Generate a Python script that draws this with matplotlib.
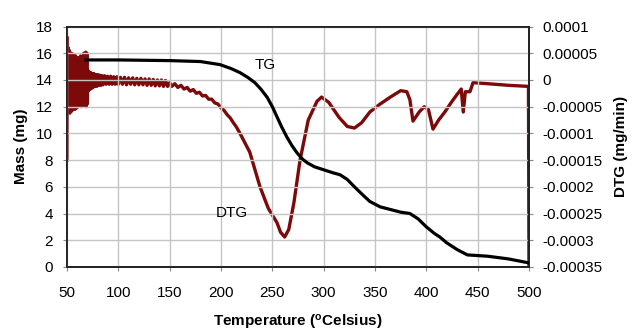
import matplotlib
matplotlib.use("Agg")
import matplotlib.pyplot as plt

plt.rcParams["font.family"] = ["Liberation Sans", "DejaVu Sans"]

# TG curve: temperature (C) and sample mass (mg)
tg_temp = [68.5, 100, 150, 180, 199, 210, 218.5, 226, 233, 239, 245, 250,
           254.5, 259, 264, 269, 274, 279, 284, 291, 299, 309, 316, 323, 330,
           338, 345, 355, 365, 375, 384, 392, 400, 408, 413, 420, 430, 440,
           460, 480, 500]
tg_mass = [15.5, 15.5, 15.45, 15.38, 15.15, 14.85, 14.55, 14.2, 13.8, 13.3,
           12.7, 12.0, 11.25, 10.5, 9.75, 9.1, 8.55, 8.1, 7.8, 7.5, 7.3, 7.05,
           6.9, 6.55, 6.0, 5.4, 4.9, 4.5, 4.3, 4.1, 4.0, 3.6, 3.0, 2.5, 2.25,
           1.8, 1.3, 0.9, 0.8, 0.6, 0.3]

# DTG curve: temperature (C) and mass rate (1e-6 mg/min)
dtg_temp = [50.0, 50.3, 50.8, 51.3, 51.8, 52.3, 52.8, 53.3, 53.8, 54.3, 54.8,
            55.3, 55.8, 56.3, 56.8, 57.3, 57.8, 58.3, 58.8, 59.3, 59.8, 60.3,
            60.8, 61.3, 61.8, 62.3, 62.8, 63.3, 63.8, 64.3, 64.8, 65.3, 65.8,
            66.3, 66.8, 67.3, 67.8, 68.3, 68.8, 69.3, 69.8, 70.3, 70.8, 71.5,
            72.2, 73, 73.8, 74.6, 75.4, 76.2, 77, 78, 79, 80, 81, 82, 83, 84,
            85, 86.5, 88, 89.5, 91, 92.5, 94, 95.5, 97, 98.5, 100, 102, 104,
            106, 108, 110, 112, 114, 116, 118, 120, 122, 124, 126, 128, 130,
            132, 134, 136, 138, 140, 142, 144, 146, 148, 150, 152, 155, 158,
            161, 164, 167, 170, 173, 176, 179, 182, 185, 188, 191, 194, 197,
            200, 203, 206, 209, 212, 215, 218.5, 228, 238, 246, 254.5, 258,
            262, 266, 271, 277, 285, 293.5, 298, 305, 315, 323, 330, 337, 345,
            355, 365, 375, 381, 384, 387, 393, 398, 402, 406.5, 412, 418, 425,
            430, 434, 436, 438, 442.5, 445.5, 460, 480, 499.5, 500]
dtg_rate_e6 = [-150, 80, -30, 60, -55, 55, -62, 45, -45, 50, -58, 40, -50, 48,
               -40, 35, -55, 45, -45, 30, -52, 40, -35, 42, -48, 30, -40, 45,
               -50, 35, -45, 40, -30, 50, -48, 45, -40, 52, -50, 50, -45, 18,
               -20, 15, -18, 14, -16, 12, -14, 12, -12, 10, -12, 10, -10, 9,
               -10, 8, -9, 8, -8, 7, -8, 7, -8, 6, -8, 6, -8, 5, -8, 5, -9, 4,
               -8, 4, -9, 3, -9, 3, -9, 2, -10, 2, -10, 1, -11, 0, -11, 0, -12,
               -1, -12, -5, -12, -7, -14, -10, -17, -14, -21, -18, -25, -23,
               -30, -29, -36, -36, -43, -45, -52, -57, -65, -71, -80, -88,
               -100, -135, -200, -240, -267, -285, -294, -280, -230, -150, -75,
               -40, -32, -42, -70, -87, -90, -80, -60, -45, -32, -20, -22, -37,
               -77, -60, -50, -55, -92, -75, -60, -40, -27, -17, -60, -22, -22,
               -5, -7, -10, -12, -350]
dtg_rate = [v * 1e-6 for v in dtg_rate_e6]

x_ticks = [50, 100, 150, 200, 250, 300, 350, 400, 450, 500]
mass_ticks = [0, 2, 4, 6, 8, 10, 12, 14, 16, 18]
dtg_ticks = [-0.00035, -0.0003, -0.00025, -0.0002, -0.00015, -0.0001,
             -0.00005, 0, 0.00005, 0.0001]
dtg_tick_labels = ["-0.00035", "-0.0003", "-0.00025", "-0.0002", "-0.00015",
                   "-0.0001", "-0.00005", "0", "0.00005", "0.0001"]

RED = "#7d0a0a"

fig = plt.figure(figsize=(6.32, 3.32), dpi=100)
ax = fig.add_axes([0.106, 0.196, 0.731, 0.724])
ax2 = ax.twinx()

ax.plot(tg_temp, tg_mass, color="black", lw=2.3, zorder=3)
ax2.plot(dtg_temp, dtg_rate, color=RED, lw=2.4, solid_joinstyle="round")

ax.set_xlim(50, 500)
ax.set_ylim(0, 18)
ax2.set_ylim(-0.00035, 0.0001)
ax.set_xticks(x_ticks)
ax.set_yticks(mass_ticks)
ax2.set_yticks(dtg_ticks)
ax2.set_yticklabels(dtg_tick_labels)

ax.grid(True, color="#c4c4c4", lw=1.0)
ax.set_axisbelow(True)
ax.set_zorder(ax2.get_zorder() + 1)
ax.patch.set_visible(False)

for a in (ax, ax2):
    for s in a.spines.values():
        s.set_color("#222222")
        s.set_linewidth(1.3)

ax.tick_params(axis="both", labelsize=11, length=3, width=0.8,
               color="#888888", pad=7)
ax.tick_params(axis="x", pad=11)
ax2.tick_params(axis="y", labelsize=11, length=3, width=0.8,
                color="#888888", pad=7)

ax.set_xlabel("Temperature ($\\mathregular{^o}$Celsius)", fontsize=11,
              fontweight="bold", labelpad=9)
ax.set_ylabel("Mass (mg)", fontsize=11, fontweight="bold", labelpad=6)
ax2.set_ylabel("DTG (mg/min)", fontsize=11, fontweight="bold")
ax2.yaxis.set_label_coords(1.183, 0.5)

ax.text(243, 15.1, "TG", fontsize=11, ha="center", va="center")
ax.text(210.5, 4.05, "DTG", fontsize=11, ha="center", va="center")

fig.savefig("out.png", dpi=100)
